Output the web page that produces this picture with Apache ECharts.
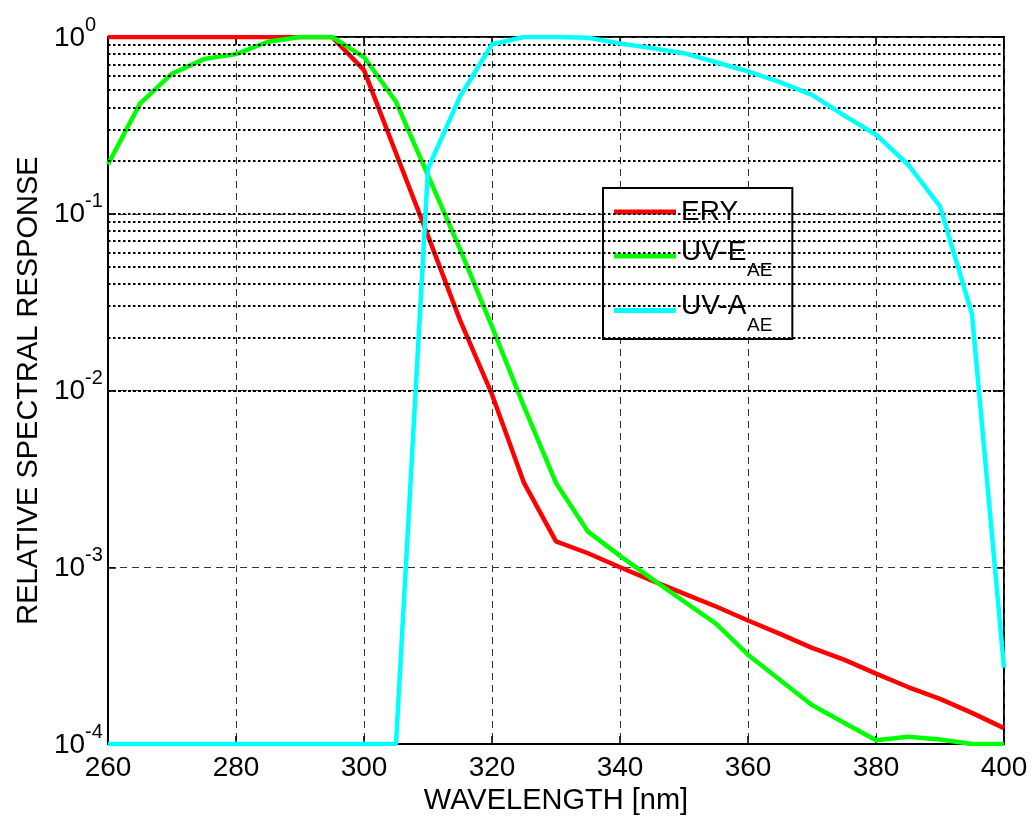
<!DOCTYPE html>
<html>
<head>
<meta charset="utf-8">
<script src="https://cdn.jsdelivr.net/npm/echarts@6/dist/echarts.min.js"></script>
<style>
  html, body { margin: 0; padding: 0; background: #fff; }
  #chart { width: 1034px; height: 816px; }
</style>
</head>
<body>
<div id="chart"></div>
<script>
// wavelengths in nm, 5 nm steps
var wavelengths = [260, 265, 270, 275, 280, 285, 290, 295, 300, 305, 310, 315, 320, 325, 330,
  335, 340, 345, 350, 355, 360, 365, 370, 375, 380, 385, 390, 395, 400];

// relative spectral response
var ery = [1, 1, 1, 1, 1, 1, 1, 1, 0.65, 0.22, 0.075, 0.025, 0.0095, 0.003, 0.0014,
  0.0012, 0.001, 0.00084, 0.00071, 0.0006, 0.0005, 0.00042, 0.00035, 0.0003, 0.00025,
  0.00021, 0.00018, 0.00015, 0.000123];
var uvE = [0.19, 0.42, 0.62, 0.75, 0.80, 0.94, 1, 1, 0.77, 0.43, 0.165, 0.063, 0.023, 0.0081, 0.003,
  0.00159, 0.00116, 0.00086, 0.00064, 0.00048, 0.00032, 0.00023, 0.000166, 0.000132, 0.000105,
  0.00011, 0.000106, 0.0001, 0.0001];
var uvA = [0.0001, 0.0001, 0.0001, 0.0001, 0.0001, 0.0001, 0.0001, 0.0001, 0.0001, 0.0001,
  0.18, 0.46, 0.91, 1, 1, 0.99, 0.92, 0.865, 0.81, 0.72, 0.64, 0.555, 0.47, 0.36, 0.28,
  0.19, 0.11, 0.027, 0.00027];

var seriesNames = ['ERY', 'UV-E_AE', 'UV-A_AE'];
var seriesColors = ['#ff0000', '#00ff00', '#00ffff'];
var decades = [0.0001, 0.001, 0.01, 0.1, 1];

function pairs(ys) {
  return wavelengths.map(function (x, i) { return [x, ys[i]]; });
}

// dotted log grid: 2..9 in every decade plus the decade lines themselves
var minorLines = [];
for (var d = 0; d < decades.length - 1; d++) {
  for (var m = 1; m <= 9; m++) {
    if (m === 1 && d === 0) continue;
    minorLines.push({ yAxis: decades[d] * m });
  }
}

var font = 'Liberation Sans, Arial, sans-serif';
var myChart = echarts.init(document.getElementById('chart'));

var lineSeries = [ery, uvE, uvA].map(function (ys, i) {
  return {
    name: seriesNames[i],
    type: 'line',
    data: pairs(ys),
    symbol: 'none',
    z: 3 + i,
    lineStyle: { color: seriesColors[i], width: 4.5 },
    itemStyle: { color: seriesColors[i] }
  };
});

// rich tokens don't shift vertically here, so sub/superscripts go on their own line
myChart.setOption({
  animation: false,
  textStyle: { fontFamily: font },
  grid: {
    left: 108, right: 30, top: 37, bottom: 72, outerBoundsMode: 'none',
    show: true, borderColor: '#000', borderWidth: 2, backgroundColor: 'transparent'
  },
  legend: {
    data: seriesNames,
    orient: 'vertical',
    left: 603,
    top: 188,
    padding: [10, 20, 4, 11],
    itemGap: 12,
    itemWidth: 62,
    itemHeight: 5,
    icon: 'rect',
    backgroundColor: '#fff',
    borderColor: '#000',
    borderWidth: 2,
    borderRadius: 0,
    formatter: function (name) {
      var p = name.split('_');
      return p.length > 1 ? '{m|' + p[0] + '}\n{sp| }{sub|' + p[1] + '}' : '{m|' + name + '}';
    },
    textStyle: {
      fontFamily: font,
      fontSize: 28,
      color: '#000',
      rich: {
        m: { fontFamily: font, fontSize: 28, lineHeight: 30, color: '#000' },
        sp: { fontFamily: font, fontSize: 19, lineHeight: 8, width: 66 },
        sub: { fontFamily: font, fontSize: 19, lineHeight: 8, color: '#000' }
      }
    }
  },
  xAxis: [{
    type: 'value',
    min: 260, max: 400, interval: 20,
    name: 'WAVELENGTH [nm]',
    nameLocation: 'middle',
    nameGap: 39,
    nameTextStyle: { fontFamily: font, fontSize: 29, color: '#000' },
    axisLine: { show: true, lineStyle: { color: '#000', width: 2 } },
    axisTick: { show: true, inside: true, length: 8, lineStyle: { color: '#000', width: 1.5 } },
    axisLabel: { fontFamily: font, fontSize: 28, color: '#000', margin: 10 },
    splitLine: { show: true, lineStyle: { color: '#333', width: 1, type: [7, 5] } }
  }, {
    type: 'value', position: 'top',
    min: 260, max: 400, interval: 20,
    axisLine: { show: false },
    axisTick: { show: true, inside: true, length: 8, lineStyle: { color: '#000', width: 1.5 } },
    axisLabel: { show: false },
    splitLine: { show: false }
  }],
  yAxis: [{
    type: 'log',
    logBase: 10,
    min: 0.0001, max: 1,
    name: 'RELATIVE SPECTRAL RESPONSE',
    nameLocation: 'middle',
    nameGap: 61,
    nameTextStyle: { fontFamily: font, fontSize: 29, color: '#000' },
    axisLine: { show: true, lineStyle: { color: '#000', width: 2 } },
    axisTick: { show: true, inside: true, length: 8, lineStyle: { color: '#000', width: 1.5 } },
    axisLabel: {
      margin: 54,
      align: 'left',
      formatter: function (v) {
        return '{sp| }{e|' + Math.round(Math.log10(v)) + '}\n{b|10}';
      },
      rich: {
        sp: { fontFamily: font, fontSize: 20, lineHeight: 2, width: 31 },
        e: { fontFamily: font, fontSize: 20, lineHeight: 2, color: '#000' },
        b: { fontFamily: font, fontSize: 28, lineHeight: 24, color: '#000' }
      }
    },
    splitLine: { show: true, lineStyle: { color: '#333', width: 1, type: [7, 5] } }
  }, {
    type: 'log',
    logBase: 10,
    min: 0.0001, max: 1,
    position: 'right',
    axisLine: { show: false },
    axisTick: { show: true, inside: true, length: 8, lineStyle: { color: '#000', width: 1.5 } },
    axisLabel: { show: false },
    splitLine: { show: false }
  }],
  series: [{
    name: 'grid',
    type: 'line',
    data: [],
    z: 1,
    silent: true,
    markLine: {
      silent: true,
      symbol: 'none',
      animation: false,
      label: { show: false },
      lineStyle: { color: '#000', width: 2, type: [2.5, 2.5] },
      data: minorLines
    }
  }].concat(lineSeries)
});
</script>
</body>
</html>
